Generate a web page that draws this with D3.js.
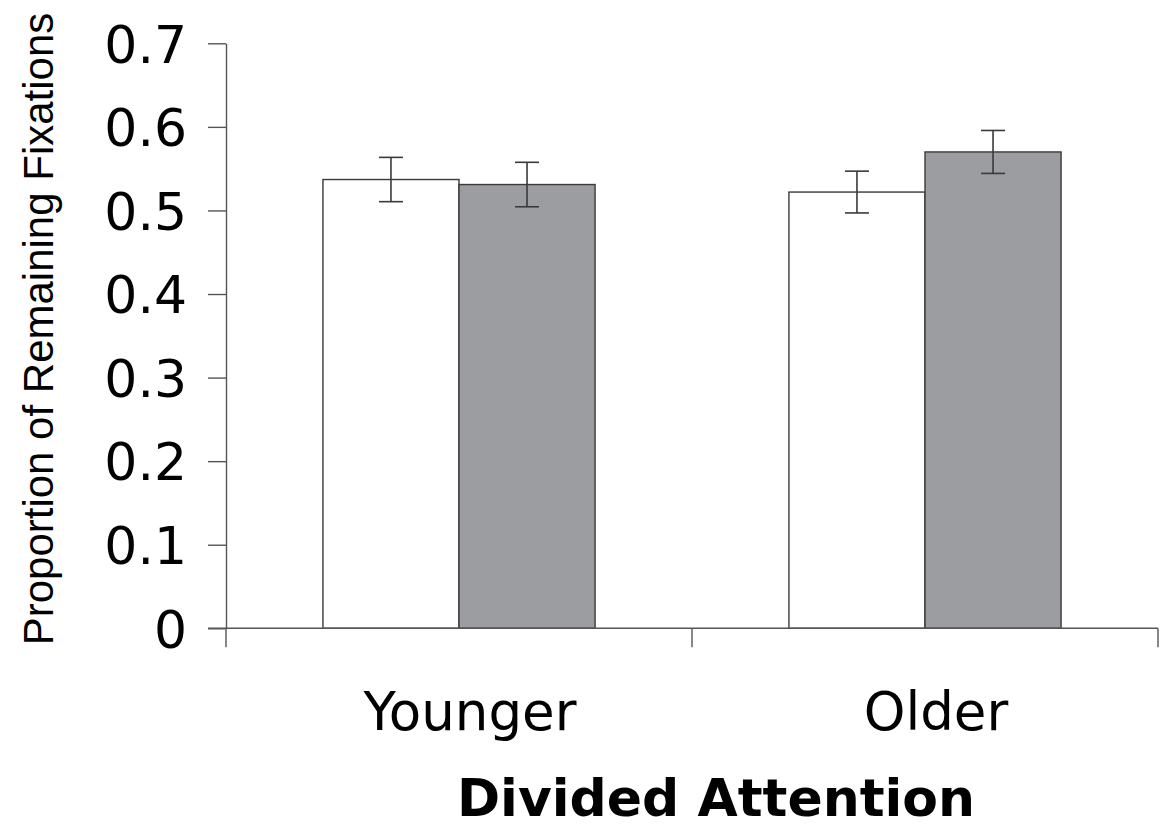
<!DOCTYPE html>
<html>
<head>
<meta charset="utf-8">
<script src="https://cdn.jsdelivr.net/npm/d3@7"></script>
<style>
  html, body { margin: 0; padding: 0; background: #fff; }
  svg { display: block; }
</style>
</head>
<body>
<svg id="chart" width="1170" height="828"></svg>
<script>
const categories = ["Younger", "Older"];
const series = ["Condition A", "Condition B"];
const means = [
  [0.537, 0.531],
  [0.522, 0.570]
];
const errors = [
  [0.0265, 0.0266],
  [0.0250, 0.0257]
];
const yTicks = [0, 0.1, 0.2, 0.3, 0.4, 0.5, 0.6, 0.7];
const yTickLabels = ["0", "0.1", "0.2", "0.3", "0.4", "0.5", "0.6", "0.7"];
const yTitle = "Proportion of Remaining Fixations";
const xTitle = "Divided Attention";

const fills = ["#ffffff", "#9c9da1"];
const svg = d3.select("#chart");

const plotLeft = 226, plotRight = 1158, plotTop = 43.3, plotBottom = 628.3;

const y = d3.scaleLinear().domain([0, 0.7]).range([plotBottom, plotTop]);
const x = d3.scaleBand().domain(categories).range([plotLeft, plotRight]).padding(0);
const bw = x.bandwidth();
const xs = d3.scaleBand().domain(series).range([bw * 0.208, bw * 0.792]).padding(0);

// bars
const groups = svg.selectAll("g.grp").data(categories).enter().append("g")
  .attr("class", "grp")
  .attr("transform", d => `translate(${x(d)},0)`);

groups.each(function(cat, ci) {
  const g = d3.select(this);
  series.forEach((s, si) => {
    const v = means[ci][si];
    g.append("rect")
      .attr("x", xs(s))
      .attr("y", y(v))
      .attr("width", xs.bandwidth())
      .attr("height", y(0) - y(v))
      .attr("fill", fills[si])
      .attr("stroke", "#3a3a3a")
      .attr("stroke-width", 1.4);
  });
});

// error bars
const capW = 24;
groups.each(function(cat, ci) {
  const g = d3.select(this);
  series.forEach((s, si) => {
    const v = means[ci][si], e = errors[ci][si];
    const cx = xs(s) + xs.bandwidth() / 2;
    const eg = g.append("g").attr("stroke", "#3a3a3a").attr("stroke-width", 1.6).attr("fill", "none");
    eg.append("line").attr("x1", cx).attr("x2", cx).attr("y1", y(v + e)).attr("y2", y(v - e));
    eg.append("line").attr("x1", cx - capW / 2).attr("x2", cx + capW / 2).attr("y1", y(v + e)).attr("y2", y(v + e));
    eg.append("line").attr("x1", cx - capW / 2).attr("x2", cx + capW / 2).attr("y1", y(v - e)).attr("y2", y(v - e));
  });
});

// y axis
const yAxis = d3.axisLeft(y)
  .tickValues(yTicks)
  .tickFormat((d, i) => yTickLabels[i])
  .tickSize(18)
  .tickSizeOuter(0)
  .tickPadding(21);
const yg = svg.append("g").attr("transform", `translate(${plotLeft},0)`).call(yAxis);
yg.select(".domain").attr("stroke", "#555").attr("stroke-width", 1.4);
yg.selectAll(".tick line").attr("stroke", "#555").attr("stroke-width", 1.4);
yg.selectAll(".tick text")
  .attr("font-family", "DejaVu Sans, Verdana, sans-serif")
  .attr("font-size", 52)
  .attr("fill", "#000")
  .attr("dy", "0.36em");

// x axis
const xg = svg.append("g").attr("stroke", "#555").attr("stroke-width", 1.4);
xg.append("line").attr("x1", plotLeft - 18).attr("x2", plotRight).attr("y1", y(0)).attr("y2", y(0));
const boundaries = categories.map(c => x(c)).concat([x(categories[categories.length - 1]) + bw]);
xg.selectAll("line.xt").data(boundaries).enter().append("line")
  .attr("class", "xt")
  .attr("x1", d => d).attr("x2", d => d)
  .attr("y1", y(0)).attr("y2", y(0) + 19);

// category labels
svg.selectAll("text.cat").data(categories).enter().append("text")
  .attr("class", "cat")
  .attr("x", d => x(d) + bw / 2 + 11)
  .attr("y", 730)
  .attr("text-anchor", "middle")
  .attr("font-family", "DejaVu Sans, Verdana, sans-serif")
  .attr("font-size", 53)
  .attr("fill", "#000")
  .text(d => d);

// x title
svg.append("text")
  .attr("x", 716)
  .attr("y", 816)
  .attr("text-anchor", "middle")
  .attr("font-family", "DejaVu Sans, Verdana, sans-serif")
  .attr("font-weight", "bold")
  .attr("font-size", 52)
  .attr("fill", "#000")
  .text(xTitle);

// y title
svg.append("text")
  .attr("transform", "translate(53,329) rotate(-90)")
  .attr("text-anchor", "middle")
  .attr("font-family", "Liberation Sans, Arial, sans-serif")
  .attr("font-size", 42)
  .attr("fill", "#000")
  .text(yTitle);
</script>
</body>
</html>
